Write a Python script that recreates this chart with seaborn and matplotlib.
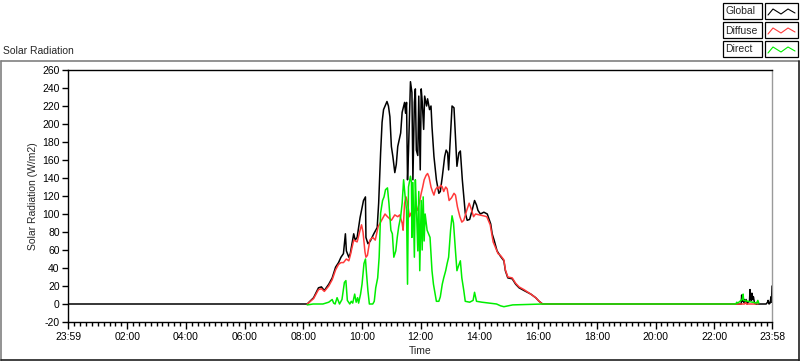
import numpy as np
import pandas as pd
import matplotlib
matplotlib.use("Agg")
import matplotlib.pyplot as plt
from matplotlib.ticker import FixedLocator, FixedFormatter
from matplotlib.lines import Line2D
from matplotlib.patches import Rectangle
import seaborn as sns

# ---------------- data ----------------
global_time = ["23:59", "08:08", "08:21", "08:31", "08:37", "08:43", "08:52", "08:59", "09:06", "09:12",
               "09:17", "09:22", "09:26", "09:28", "09:33", "09:36", "09:43", "09:46", "09:50", "09:56",
               "10:03", "10:07", "10:08", "10:12", "10:17", "10:24", "10:31", "10:34", "10:38", "10:41",
               "10:44", "10:51", "10:54", "10:57", "11:00", "11:03", "11:07", "11:10", "11:13", "11:19",
               "11:22", "11:27", "11:29", "11:31", "11:33", "11:35", "11:39", "11:42", "11:44", "11:47",
               "11:49", "11:51", "11:54", "11:56", "11:59", "12:01", "12:03", "12:06", "12:08", "12:12",
               "12:14", "12:18", "12:21", "12:23", "12:27", "12:32", "12:37", "12:40", "12:44", "12:49",
               "12:52", "12:55", "12:57", "13:01", "13:04", "13:08", "13:11", "13:14", "13:18", "13:21",
               "13:25", "13:28", "13:31", "13:35", "13:40", "13:45", "13:50", "13:54", "13:57", "14:02",
               "14:09", "14:16", "14:23", "14:26", "14:30", "14:36", "14:43", "14:50", "14:53", "14:58",
               "15:07", "15:14", "15:21", "15:31", "15:45", "15:55", "16:02", "16:09",
               "22:55", "22:56", "22:57", "22:59", "23:00", "23:01", "23:03", "23:05", "23:07", "23:09",
               "23:12", "23:13", "23:14", "23:16", "23:17", "23:19", "23:20", "23:22", "23:24", "23:46",
               "23:49", "23:50", "23:52", "23:54", "23:56", "23:57", "23:58"]
global_vals = [0, 0, 7, 18, 19, 15, 22, 29, 41, 46,
               52, 56, 78, 59, 52, 56, 78, 71, 74, 96,
               115, 119, 74, 67, 70, 78, 85, 112, 168, 202,
               216, 225, 220, 208, 175, 164, 146, 155, 175, 190,
               213, 224, 212, 224, 138, 170, 247, 235, 138, 224,
               239, 171, 165, 231, 149, 239, 225, 194, 231, 220,
               228, 216, 220, 197, 164, 138, 123, 125, 141, 164,
               171, 168, 149, 190, 220, 218, 186, 153, 168, 170,
               138, 119, 101, 93, 94, 104, 115, 110, 104, 100,
               102, 100, 89, 78, 71, 59, 53, 48, 37, 29,
               28, 22, 18, 15, 11, 7, 3, 0,
               0, 10, 3, 8, 2, 5, 1, 5, 0, 2,
               3, 16, 6, 4, 12, 5, 8, 2, 0, 0,
               2, 4, 0, 1, 8, 2, 20]

diffuse_time = ["08:08", "08:21", "08:31", "08:37", "08:43", "08:52", "08:59", "09:06", "09:12", "09:17",
                "09:22", "09:28", "09:33", "09:36", "09:43", "09:50", "09:56", "09:59", "10:02", "10:06",
                "10:08", "10:11", "10:16", "10:22", "10:27", "10:33", "10:40", "10:47", "10:52", "10:56",
                "11:00", "11:07", "11:13", "11:17", "11:22", "11:24", "11:27", "11:30", "11:33", "11:37",
                "11:40", "11:44", "11:47", "11:50", "11:53", "11:57", "12:01", "12:04", "12:07", "12:11",
                "12:14", "12:17", "12:21", "12:24", "12:27", "12:30", "12:34", "12:37", "12:41", "12:44",
                "12:47", "12:51", "12:54", "12:58", "13:03", "13:08", "13:11", "13:15", "13:20", "13:24",
                "13:28", "13:34", "13:39", "13:43", "13:48", "13:52", "14:00", "14:08", "14:15", "14:22",
                "14:28", "14:38", "14:43", "14:50", "14:53", "14:58", "15:07", "15:14", "15:21", "15:31",
                "15:45", "15:55", "16:02", "16:09",
                "23:00", "23:02", "23:04", "23:06", "23:08", "23:25", "23:27", "23:29"]
diffuse_vals = [0, 6, 16, 17, 14, 20, 27, 38, 44, 46,
                46, 50, 48, 54, 71, 69, 82, 88, 80, 58,
                52, 54, 71, 74, 71, 86, 93, 100, 97, 95,
                93, 99, 97, 99, 90, 82, 112, 119, 112, 97,
                101, 93, 100, 108, 104, 112, 123, 130, 138, 143,
                145, 141, 130, 125, 121, 127, 130, 128, 132, 130,
                125, 130, 128, 115, 118, 123, 121, 108, 97, 91,
                93, 104, 112, 106, 97, 100, 99, 98, 97, 88,
                69, 56, 54, 49, 38, 30, 29, 23, 19, 16,
                11, 7, 3, 0,
                np.nan, 0, 2, 0, np.nan, 0, 2, 0]

direct_time = ["08:08", "08:20", "08:40", "08:52", "08:59", "09:02", "09:05", "09:09", "09:14", "09:19",
               "09:24", "09:27", "09:30", "09:35", "09:38", "09:41", "09:45", "09:48", "09:51", "09:53",
               "09:57", "10:00", "10:04", "10:07", "10:09", "10:12", "10:15", "10:22", "10:25", "10:28",
               "10:32", "10:35", "10:38", "10:42", "10:45", "10:48", "10:52", "10:55", "10:59", "11:02",
               "11:05", "11:09", "11:12", "11:15", "11:19", "11:22", "11:25", "11:28", "11:31", "11:33",
               "11:35", "11:39", "11:41", "11:42", "11:44", "11:47", "11:49", "11:51", "11:54", "11:56",
               "11:58", "12:01", "12:03", "12:05", "12:07", "12:09", "12:13", "12:16", "12:19", "12:23",
               "12:26", "12:32", "12:37", "12:40", "12:44", "12:47", "12:51", "12:54", "12:57", "13:01",
               "13:04", "13:07", "13:11", "13:14", "13:17", "13:21", "13:24", "13:28", "13:31", "13:40",
               "13:47", "13:50", "13:54", "14:05", "14:20", "14:35", "14:43", "14:50", "15:08", "16:10",
               "22:40", "22:44", "22:46", "22:48", "22:52", "22:57", "22:59", "23:00", "23:20", "23:27",
               "23:29", "23:31"]
direct_vals = [-1, 0, 0, 2, 5, 1, 0, 7, 0, 5,
               24, 26, 4, 0, 3, 1, 11, 2, 7, 1,
               11, 22, 45, 50, 35, 15, 0, 0, 3, 18,
               29, 52, 101, 115, 119, 127, 129, 112, 82, 78,
               52, 59, 74, 86, 97, 112, 138, 120, 104, 22,
               130, 142, 135, 74, 135, 52, 138, 110, 59, 125,
               37, 115, 60, 119, 70, 100, 82, 78, 74, 37,
               22, 3, 3, 8, 22, 29, 37, 45, 52, 82,
               98, 90, 59, 37, 42, 48, 29, 15, 3, 2,
               4, 13, 3, 2, 1, 0, -2, -3, -1, 0,
               np.nan, 0, 2, 1, np.nan, 5, 11, 4, np.nan, 1,
               4, 1]

x_tick_labels = ["23:59", "02:00", "04:00", "06:00", "08:00", "10:00", "12:00",
                 "14:00", "16:00", "18:00", "20:00", "22:00", "23:58"]
y_ticks = list(range(-20, 261, 20))
series_names = ["Global", "Diffuse", "Direct"]
series_colors = ["#000000", "#ff3a3a", "#00ee00"]


def to_minutes(labels, first_prev_day=False):
    out = []
    for i, s in enumerate(labels):
        h, m = s.split(":")
        v = int(h) * 60 + int(m)
        if i == 0 and first_prev_day and v > 1400:
            v -= 1440
        out.append(v)
    return out


frames = []
for name, t, v, prev in [("Global", global_time, global_vals, True),
                         ("Diffuse", diffuse_time, diffuse_vals, False),
                         ("Direct", direct_time, direct_vals, False)]:
    frames.append(pd.DataFrame({"minute": to_minutes(t, prev), "value": v, "series": name}))

# ---------------- figure ----------------
W, H = 800, 361
sns.set_style("white")
plt.rcParams["font.family"] = ["Liberation Sans", "DejaVu Sans"]
plt.rcParams["xtick.bottom"] = True
plt.rcParams["ytick.left"] = True
fig = plt.figure(figsize=(W / 100, H / 100), dpi=100)
FS = 7.5

ax_l, ax_r, ax_t, ax_b = 68, 772, 70, 322
ax = fig.add_axes([ax_l / W, 1 - ax_b / H, (ax_r - ax_l) / W, (ax_b - ax_t) / H])
ax.set_facecolor("white")

for df, color in zip(frames, series_colors):
    sns.lineplot(data=df, x="minute", y="value", ax=ax, color=color, lw=1.1,
                 estimator=None, sort=False, legend=False)

ax.set_xlim(-1, 1438)
ax.set_ylim(-20, 260)

major_x = to_minutes(x_tick_labels, True)
major_x[-1] = 1438
ax.xaxis.set_major_locator(FixedLocator(major_x))
ax.xaxis.set_major_formatter(FixedFormatter(x_tick_labels))
minor_x = [m for m in range(12, 1438, 12) if m % 120 != 0]
ax.xaxis.set_minor_locator(FixedLocator(minor_x))
ax.yaxis.set_major_locator(FixedLocator(y_ticks))
ax.set_yticklabels([str(v) for v in y_ticks])

ax.tick_params(axis="x", which="both", bottom=True, top=False)
ax.tick_params(axis="y", which="both", left=True, right=False)
ax.tick_params(axis="both", which="major", direction="out", length=5, width=1,
               color="black", labelsize=FS, pad=2, labelcolor="black")
ax.tick_params(axis="x", which="minor", direction="out", length=3, width=1, color="black")
ax.tick_params(axis="y", which="minor", length=0)
ax.tick_params(axis="y", which="major", length=4)

ax.set_xlabel("Time", fontsize=FS, labelpad=3)
ax.set_ylabel("Solar Radiation (W/m2)", fontsize=FS, labelpad=3)

for side in ["left", "top", "bottom"]:
    ax.spines[side].set_color("black")
    ax.spines[side].set_linewidth(1.0)
    ax.spines[side].set_visible(True)
ax.spines["right"].set_color("#9a9a9a")
ax.spines["right"].set_visible(True)
ax.spines["right"].set_linewidth(1.0)
ax.grid(False)


def fx(px):
    return px / W


def fy(py):
    return 1 - py / H


# outer panel frame
fig.add_artist(Line2D([fx(0.5), fx(799)], [fy(61), fy(61)], color="#808080", lw=1.2))
fig.add_artist(Line2D([fx(1), fx(1)], [fy(61), fy(361)], color="#808080", lw=1.2))
fig.add_artist(Line2D([fx(798.5), fx(798.5)], [fy(61), fy(360.5)], color="#202020", lw=1.2))
fig.add_artist(Line2D([fx(1), fx(799)], [fy(360.3), fy(360.3)], color="#202020", lw=1.2))

fig.text(fx(3), fy(51), "Solar Radiation", fontsize=FS, va="center", ha="left")

# legend (top right)
for i, (name, color) in enumerate(zip(series_names, series_colors)):
    y0 = 3 + i * 19
    fig.add_artist(Rectangle((fx(722.5), fy(y0 + 16)), (762 - 722.5) / W, 16 / H,
                             fill=False, ec="black", lw=0.9))
    fig.text(fx(725), fy(y0 + 8.5), name, fontsize=FS, va="center", ha="left")
    fig.add_artist(Rectangle((fx(765), fy(y0 + 16)), (798 - 765) / W, 16 / H,
                             fill=False, ec="black", lw=0.9))
    zx = [768, 773, 781, 788, 795]
    zy = [y0 + 12, y0 + 6, y0 + 11, y0 + 6, y0 + 10]
    fig.add_artist(Line2D([fx(v) for v in zx], [fy(v) for v in zy], color=color, lw=0.8))

fig.savefig("out.png", dpi=100)
